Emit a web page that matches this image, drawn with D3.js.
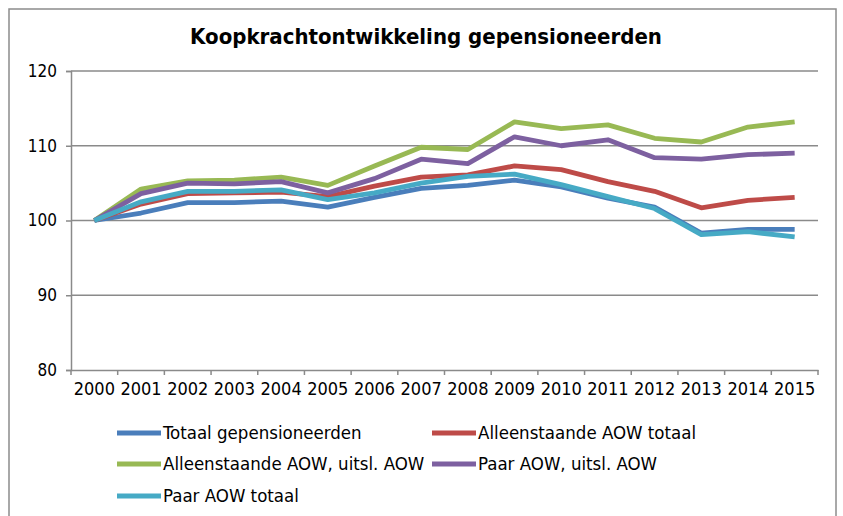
<!DOCTYPE html>
<html>
<head>
<meta charset="utf-8">
<script src="https://cdnjs.cloudflare.com/ajax/libs/d3/7.8.5/d3.min.js"></script>
<style>
  body { margin: 0; background: #fff; }
  text { font-family: "DejaVu Sans Condensed", "DejaVu Sans", sans-serif; font-stretch: condensed; fill: #000; }
  .grid line { stroke: #8a8a8a; stroke-width: 1.5; }
  .axis path, .axis line { stroke: #8a8a8a; stroke-width: 1.5; }
  .line { fill: none; stroke-width: 4.8; stroke-linejoin: round; }
</style>
</head>
<body>
<div id="chart"></div>
<script>
var years = ['2000','2001','2002','2003','2004','2005','2006','2007','2008','2009','2010','2011','2012','2013','2014','2015'];
var yTicks = [80, 90, 100, 110, 120];

var seriesNames = ['Totaal gepensioneerden', 'Alleenstaande AOW totaal', 'Alleenstaande AOW, uitsl. AOW', 'Paar AOW, uitsl. AOW', 'Paar AOW totaal'];
var totaal       = [100, 101.0, 102.4, 102.4, 102.6, 101.8, 103.1, 104.3, 104.7, 105.4, 104.5, 103.0, 101.8, 98.3, 98.8, 98.8];
var alleenTotaal = [100, 102.2, 103.6, 103.7, 103.8, 103.2, 104.6, 105.8, 106.1, 107.3, 106.8, 105.2, 103.9, 101.7, 102.7, 103.1];
var alleenUitsl  = [100, 104.2, 105.3, 105.4, 105.8, 104.7, 107.3, 109.8, 109.5, 113.2, 112.3, 112.8, 111.0, 110.5, 112.5, 113.2];
var paarUitsl    = [100, 103.6, 105.0, 104.9, 105.2, 103.7, 105.6, 108.2, 107.6, 111.2, 110.0, 110.8, 108.4, 108.2, 108.8, 109.0];
var paarTotaal   = [100, 102.5, 103.9, 103.9, 104.1, 102.8, 103.7, 105.0, 105.9, 106.2, 104.8, 103.2, 101.6, 98.1, 98.5, 97.8];
var colors = ['#4a7ebb', '#be4b48', '#98b954', '#7d60a0', '#46aac5'];

var W = 843, H = 516;
var margin = {top: 71, right: 25, bottom: 146, left: 71},
    width = W - margin.left - margin.right,
    height = H - margin.top - margin.bottom;

var svg = d3.select('#chart').append('svg')
    .attr('width', W)
    .attr('height', H);

// chart area frame
svg.append('rect')
    .attr('x', 9).attr('y', 9)
    .attr('width', 827).attr('height', 530)
    .attr('fill', '#fff')
    .attr('stroke', '#8c8c8c')
    .attr('stroke-width', 1.5);

svg.append('text')
    .attr('x', 426).attr('y', 44)
    .attr('text-anchor', 'middle')
    .style('font-size', '22px')
    .style('font-weight', 'bold')
    .text('Koopkrachtontwikkeling gepensioneerden');

var g = svg.append('g')
    .attr('transform', 'translate(' + margin.left + ',' + margin.top + ')');

var xScale = d3.scaleBand().domain(years).range([0, width]);
var yScale = d3.scaleLinear().domain([80, 120]).range([height, 0]);

g.append('g')
    .attr('class', 'grid')
    .selectAll('line')
    .data(yTicks.filter(function(d) { return d > 80; }))
    .enter().append('line')
    .attr('x1', 0).attr('x2', width)
    .attr('y1', function(d) { return yScale(d); })
    .attr('y2', function(d) { return yScale(d); });

var yAxis = g.append('g')
    .attr('class', 'axis axis--y')
    .call(d3.axisLeft(yScale).tickValues(yTicks).tickSize(5).tickPadding(9));
yAxis.selectAll('text').style('font-size', '17px');

// x ticks sit on band boundaries
var xAxis = g.append('g')
    .attr('class', 'axis axis--x')
    .attr('transform', 'translate(0,' + height + ')')
    .call(d3.axisBottom(xScale).tickSize(0).tickPadding(12));
xAxis.selectAll('text').style('font-size', '18px');
xAxis.selectAll('.boundary')
    .data(d3.range(years.length + 1))
    .enter().append('line')
    .attr('class', 'boundary')
    .attr('x1', function(i) { return i * xScale.step(); })
    .attr('x2', function(i) { return i * xScale.step(); })
    .attr('y1', 0).attr('y2', 5);

var allSeries = [totaal, alleenTotaal, alleenUitsl, paarUitsl, paarTotaal];

var line = d3.line()
    .x(function(d, i) { return xScale(years[i]) + xScale.bandwidth() / 2; })
    .y(function(d) { return yScale(d); });

g.selectAll('.line')
    .data(allSeries)
    .enter().append('path')
    .attr('class', 'line')
    .style('stroke', function(d, i) { return colors[i]; })
    .attr('d', line);

// legend, two columns
var legPos = [[117, 433], [432, 433], [117, 464], [432, 464], [117, 496]];
var leg = svg.append('g').selectAll('g')
    .data(seriesNames)
    .enter().append('g')
    .attr('transform', function(d, i) { return 'translate(' + legPos[i][0] + ',' + legPos[i][1] + ')'; });

leg.append('line')
    .attr('x1', 0).attr('x2', 44)
    .attr('stroke-width', 4.8)
    .attr('stroke', function(d, i) { return colors[i]; });

leg.append('text')
    .attr('x', 46).attr('dy', '0.35em')
    .style('font-size', '18.5px')
    .text(function(d) { return d; });
</script>
</body>
</html>
